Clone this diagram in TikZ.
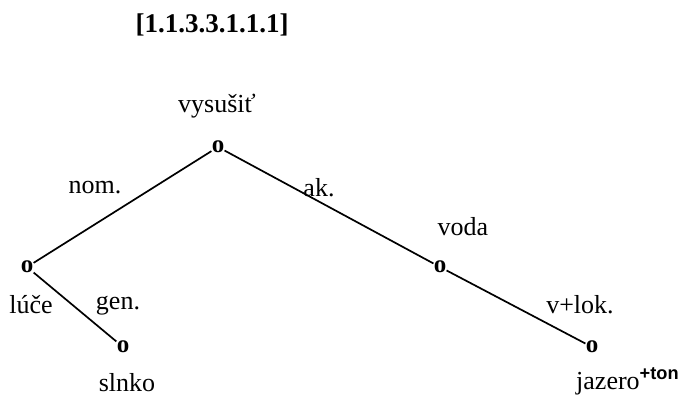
\documentclass[tikz,border=0pt]{standalone}
\usepackage{fontspec}
\setmainfont{Liberation Serif}
\newfontfamily\supfont{Liberation Sans}
\begin{document}
\begin{tikzpicture}[x=1pt,y=1pt,
  vert/.style={inner sep=1pt,font=\fontsize{25}{27}\selectfont\bfseries},
  lbl/.style={inner sep=0pt,font=\fontsize{26}{29}\selectfont},
  edge/.style={line width=1.7pt,shorten <=-1pt,shorten >=-1pt}]
\useasboundingbox (0,0) rectangle (685,397);
\node[inner sep=0pt,font=\fontsize{27}{30}\selectfont\bfseries] (title) at (212,372) {[1.1.3.3.1.1.1]};
\node[vert] (r) at (218,250) {o};
\node[vert] (l) at (27,130) {o};
\node[vert] (s) at (123,50) {o};
\node[vert] (v) at (440,130) {o};
\node[vert] (j) at (592,50) {o};
\draw[edge] (r) -- (l);
\draw[edge] (r) -- (v);
\draw[edge] (l) -- (s);
\draw[edge] (v) -- (j);
\node[lbl] (t1) at (217,291) {vysušiť};
\node[lbl] (t2) at (95,209) {nom.};
\node[lbl] (t3) at (319,209) {ak.};
\node[lbl] (t4) at (463,170) {voda};
\node[lbl] (t5) at (31,92) {lúče};
\node[lbl] (t6) at (118,91) {gen.};
\node[lbl] (t7) at (127,14) {slnko};
\node[lbl,anchor=base west] (t9) at (576,8) {jazero\textsuperscript{\supfont\bfseries +ton}};
\node[lbl] (t8) at (580,92) {v+lok.};
\end{tikzpicture}
\end{document}
